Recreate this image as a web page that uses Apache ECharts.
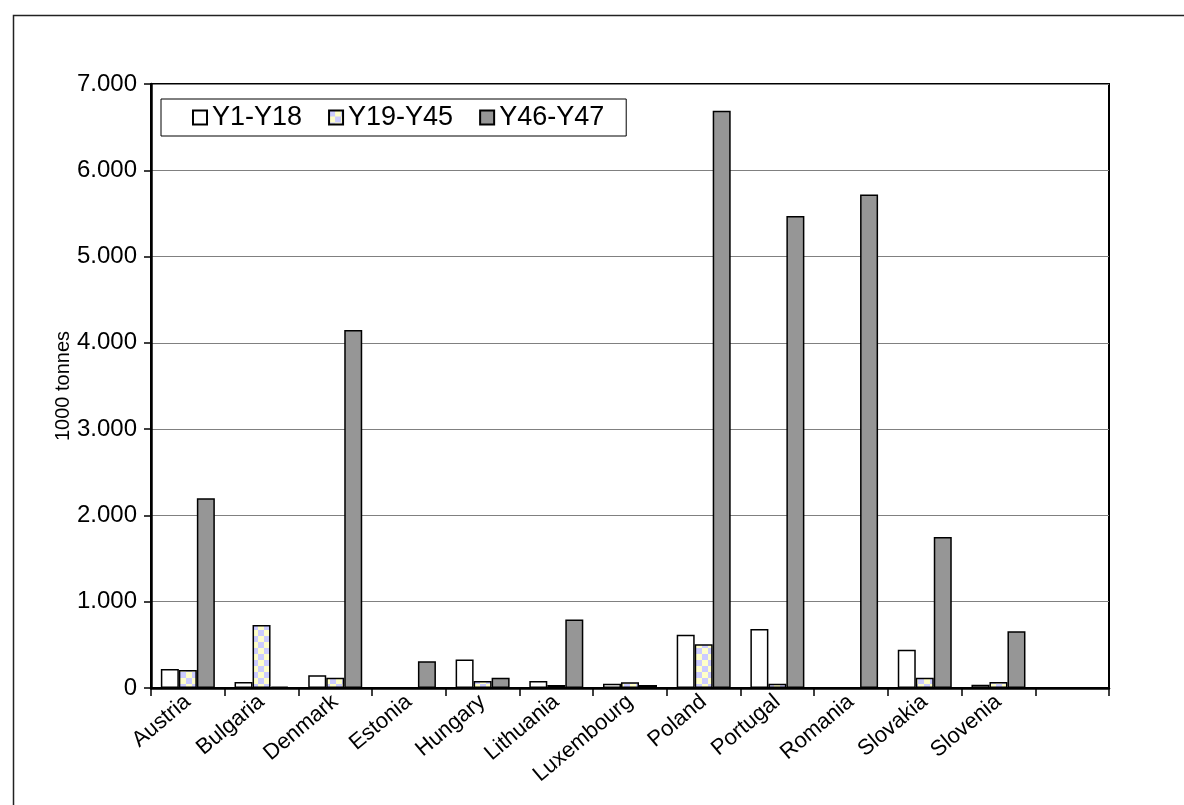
<!DOCTYPE html>
<html><head><meta charset="utf-8">
<script src="https://cdn.jsdelivr.net/npm/echarts@6/dist/echarts.min.js"></script>
<style>html,body{margin:0;padding:0;background:#fff}#c{width:1184px;height:805px}</style>
</head><body><div id="c"></div>
<script>
var categories = ['Austria','Bulgaria','Denmark','Estonia','Hungary','Lithuania','Luxembourg','Poland','Portugal','Romania','Slovakia','Slovenia',''];
var seriesNames = ['Y1-Y18','Y19-Y45','Y46-Y47'];
var y1_y18  = [220, 70, 147, 5, 330, 80, 50, 618, 684, 3, 444, 38, 0];
var y19_y45 = [210, 730, 120, 5, 80, 35, 66, 506, 50, 3, 120, 70, 0];
var y46_y47 = [2200, 15, 4150, 310, 120, 795, 35, 6690, 5470, 5720, 1750, 657, 0];
var yTicks = [0,1000,2000,3000,4000,5000,6000,7000];

var FONT = 'Liberation Sans, Arial, sans-serif';
function checker(){
  var c = document.createElement('canvas'); c.width = 12; c.height = 12;
  var g = c.getContext('2d');
  g.fillStyle = '#FFFFC8'; g.fillRect(0,0,12,12);
  g.fillStyle = '#CCCCFF'; g.fillRect(0,0,6,6); g.fillRect(6,6,6,6);
  return c;
}
function fmt(v){ return String(v).replace(/\B(?=(\d{3})+(?!\d))/g,'.'); }

var chart = echarts.init(document.getElementById('c'), null, {renderer:'canvas'});
var border = {borderColor:'#000', borderWidth:1.5};
chart.setOption({
  animation:false,
  backgroundColor:'#fff',
  grid:{left:151, right:75, top:84, bottom:117, show:true, borderColor:'#000', borderWidth:2, backgroundColor:'transparent'},
  legend:{
    left:161, top:99, orient:'horizontal',
    data:seriesNames,
    itemWidth:14, itemHeight:14, itemGap:26,
    padding:[5,22,5,31],
    borderColor:'#000', borderWidth:1, backgroundColor:'#fff',
    textStyle:{fontFamily:FONT, fontSize:27, color:'#000'},
    icon:'rect'
  },
  xAxis:{
    type:'category', data:categories,
    axisLine:{show:true, lineStyle:{color:'#000', width:2.5}},
    axisTick:{show:true, alignWithLabel:false, length:8, lineStyle:{color:'#000', width:1.5}},
    axisLabel:{interval:0, rotate:40, fontFamily:FONT, fontSize:22, color:'#000', margin:11},
    splitLine:{show:false}
  },
  yAxis:{
    type:'value', min:0, max:7000, interval:1000,
    name:'1000 tonnes', nameLocation:'middle', nameRotate:90, nameGap:78, nameMoveOverlap:false,
    nameTextStyle:{fontFamily:FONT, fontSize:20, color:'#000'},
    axisLine:{show:true, lineStyle:{color:'#000', width:2.5}},
    axisTick:{show:true, length:7, lineStyle:{color:'#000', width:1.5}},
    axisLabel:{fontFamily:FONT, fontSize:24, color:'#000', margin:14, formatter:function(v){return fmt(v);}},
    splitLine:{show:true, lineStyle:{color:'#808080', width:1}}
  },
  series:[
    {name:seriesNames[0], type:'bar', data:y1_y18, barWidth:18, barGap:'0%', itemStyle:Object.assign({color:'#fff'},border)},
    {name:seriesNames[1], type:'bar', data:y19_y45, barWidth:18, barGap:'0%', itemStyle:Object.assign({color:{image:checker(), repeat:'repeat'}},border)},
    {name:seriesNames[2], type:'bar', data:y46_y47, barWidth:18, barGap:'0%', itemStyle:Object.assign({color:'#969696'},border)}
  ],
  graphic:[
    {type:'rect', left:11, top:13, shape:{width:1300, height:900}, style:{fill:null, stroke:'#222', lineWidth:1.5}, silent:true, z:-1}
  ]
});
</script></body></html>
